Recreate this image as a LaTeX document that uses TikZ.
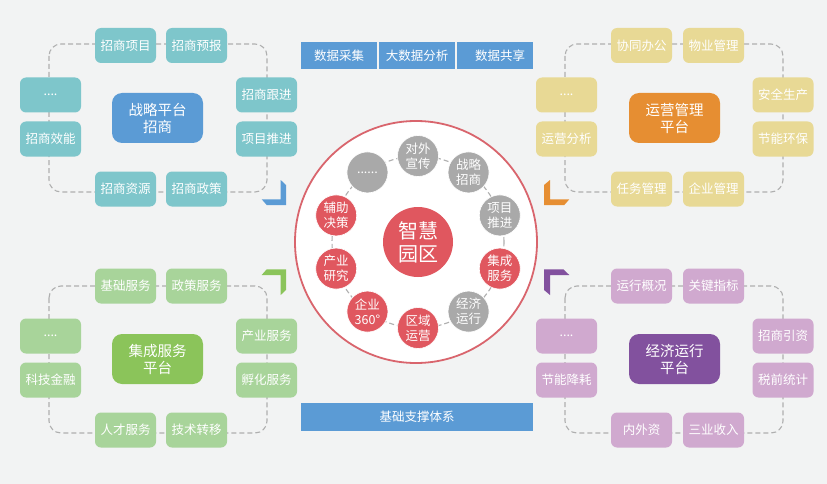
\documentclass[tikz,border=0pt]{standalone}
\usepackage{fontspec}
\setmainfont{Noto Sans CJK SC}
\definecolor{bgc}{HTML}{F2F3F3}
\definecolor{tealb}{HTML}{7EC6CB}
\definecolor{bluec}{HTML}{5B9BD5}
\definecolor{yelb}{HTML}{E8D995}
\definecolor{oranc}{HTML}{E68E32}
\definecolor{greb}{HTML}{A8D49A}
\definecolor{grec}{HTML}{8BC45A}
\definecolor{purb}{HTML}{D0A9CF}
\definecolor{purc}{HTML}{82519E}
\definecolor{redc}{HTML}{E0575F}
\definecolor{grayc}{HTML}{A9A9A9}
\definecolor{ringc}{HTML}{D9656D}
\definecolor{dashc}{HTML}{AFAFAF}
\tikzset{
  sbox/.style={rounded corners=6pt, minimum width=61pt, minimum height=35pt, text=white, font=\fontsize{12.5}{14}\selectfont, inner sep=0pt},
  cbox/.style={rounded corners=10pt, minimum width=91pt, minimum height=50pt, text=white, align=center, font=\fontsize{14.5}{17}\selectfont, inner sep=0pt},
  loop/.style={draw=dashc, dashed, dash pattern=on 5pt off 3pt, line width=1.1pt, rounded corners=12pt},
  bar/.style={fill=bluec, text=white, minimum height=27pt, inner sep=0pt, font=\fontsize{12.5}{14}\selectfont},
  dot/.style={circle, minimum size=41pt, inner sep=0pt, text=white, align=center, font=\fontsize{12.5}{15}\selectfont, draw=white, line width=0.6pt},
  gdot/.style={dot, fill=grayc},
  rdot/.style={dot, fill=redc},
}
\begin{document}
\begin{tikzpicture}[x=1pt,y=-1pt]
\fill[bgc] (0,0) rectangle (827,484);
\useasboundingbox (0,0) rectangle (827,484);

% ---------- center ----------
\node[circle, draw=ringc, line width=1.8pt, fill=white, minimum size=242pt, inner sep=0pt] (big) at (416,242) {};
\draw[dashc, dashed, dash pattern=on 5pt off 3pt, line width=1.1pt] (418,242) circle (86pt);
\node[circle, fill=redc, minimum size=70pt, inner sep=0pt, text=white, align=center, font=\fontsize{20}{23}\selectfont] (hub) at (418,242) {智慧\\园区};
\node[gdot] (c1) at ({418+86*cos(90)},{242-86*sin(90)}) {对外\\宣传};
\node[gdot] (c2) at ({418+86*cos(54)},{242-86*sin(54)}) {战略\\招商};
\node[gdot] (c3) at ({418+86*cos(18)},{242-86*sin(18)}) {项目\\推进};
\node[rdot] (c4) at ({418+86*cos(-18)},{242-86*sin(-18)}) {集成\\服务};
\node[gdot] (c5) at ({418+86*cos(-54)},{242-86*sin(-54)}) {经济\\运行};
\node[rdot] (c6) at ({418+86*cos(-90)},{242-86*sin(-90)}) {区域\\运营};
\node[rdot] (c7) at ({418+86*cos(-126)},{242-86*sin(-126)}) {企业\\360°};
\node[rdot] (c8) at ({418+86*cos(-162)},{242-86*sin(-162)}) {产业\\研究};
\node[rdot] (c9) at ({418+86*cos(162)},{242-86*sin(162)}) {辅助\\决策};
\node[gdot] (c10) at ({418+86*cos(126)},{242-86*sin(126)}) {......};

% ---------- bars ----------
\node[bar, minimum width=76pt] (b1) at (339,55.5) {数据采集};
\node[bar, minimum width=76pt] (b2) at (417,55.5) {大数据分析};
\node[bar, minimum width=76pt] (b3) at (495,55.5) {\hspace{10pt}数据共享};
\node[bar, minimum width=232pt, minimum height=28pt] (b4) at (417,417) {基础支撑体系};

% ---------- top-left ----------
\coordinate (tl1) at (49,44); \coordinate (tl2) at (267,192);
\draw[loop] (tl1) rectangle (tl2);
\node[sbox, fill=tealb] (a1) at (125.5,45.5) {招商项目};
\node[sbox, fill=tealb] (a2) at (196.5,45.5) {招商预报};
\node[sbox, fill=tealb] (a3) at (50.5,95) {....};
\node[sbox, fill=tealb] (a4) at (50.5,139) {招商效能};
\node[sbox, fill=tealb] (a5) at (266.5,95) {招商跟进};
\node[sbox, fill=tealb] (a6) at (266.5,139) {项目推进};
\node[sbox, fill=tealb] (a7) at (125.5,189) {招商资源};
\node[sbox, fill=tealb] (a8) at (196.5,189) {招商政策};
\node[cbox, fill=bluec] (A) at (157.5,118) {战略平台\\招商};
\fill[bluec] (280.7,180) -- (286,185) -- (286,205) -- (266.7,205) -- (261.7,199.3) -- (280.7,199.3) -- cycle;

% ---------- top-right ----------
\coordinate (tr1) at (565,44); \coordinate (tr2) at (783,192);
\draw[loop] (tr1) rectangle (tr2);
\node[sbox, fill=yelb] (d1) at (641.5,45.5) {协同办公};
\node[sbox, fill=yelb] (d2) at (713.5,45.5) {物业管理};
\node[sbox, fill=yelb] (d3) at (566.5,95) {....};
\node[sbox, fill=yelb] (d4) at (566.5,139) {运营分析};
\node[sbox, fill=yelb] (d5) at (783,95) {安全生产};
\node[sbox, fill=yelb] (d6) at (783,139) {节能环保};
\node[sbox, fill=yelb] (d7) at (641.5,189) {任务管理};
\node[sbox, fill=yelb] (d8) at (713.5,189) {企业管理};
\node[cbox, fill=oranc] (D) at (674.5,118) {运营管理\\平台};
\fill[oranc] (550,180) -- (544,185) -- (544,205) -- (564.3,205) -- (569.3,199.3) -- (550,199.3) -- cycle;

% ---------- bottom-left ----------
\coordinate (bl1) at (49,286); \coordinate (bl2) at (267,433);
\draw[loop] (bl1) rectangle (bl2);
\node[sbox, fill=greb] (g1) at (125.5,286) {基础服务};
\node[sbox, fill=greb] (g2) at (196.5,286) {政策服务};
\node[sbox, fill=greb] (g3) at (50.5,336) {....};
\node[sbox, fill=greb] (g4) at (50.5,380) {科技金融};
\node[sbox, fill=greb] (g5) at (266.5,336) {产业服务};
\node[sbox, fill=greb] (g6) at (266.5,380) {孵化服务};
\node[sbox, fill=greb] (g7) at (125.5,430) {人才服务};
\node[sbox, fill=greb] (g8) at (196.5,430) {技术转移};
\node[cbox, fill=grec] (G) at (157.5,359) {集成服务\\平台};
\fill[grec] (266.7,269.3) -- (286,269.3) -- (286,290) -- (280.7,295) -- (280.7,275) -- (261.7,275) -- cycle;

% ---------- bottom-right ----------
\coordinate (br1) at (565,286); \coordinate (br2) at (783,433);
\draw[loop] (br1) rectangle (br2);
\node[sbox, fill=purb] (p1) at (641.5,286) {运行概况};
\node[sbox, fill=purb] (p2) at (713.5,286) {关键指标};
\node[sbox, fill=purb] (p3) at (566.5,336) {....};
\node[sbox, fill=purb] (p4) at (566.5,380) {节能降耗};
\node[sbox, fill=purb] (p5) at (783,336) {招商引资};
\node[sbox, fill=purb] (p6) at (783,380) {税前统计};
\node[sbox, fill=purb] (p7) at (641.5,430) {内外资};
\node[sbox, fill=purb] (p8) at (713.5,430) {三业收入};
\node[cbox, fill=purc] (P) at (674.5,359) {经济运行\\平台};
\fill[purc] (544,269.3) -- (563.3,269.3) -- (569.3,275) -- (550,275) -- (550,295) -- (544,290) -- cycle;
\end{tikzpicture}
\end{document}
